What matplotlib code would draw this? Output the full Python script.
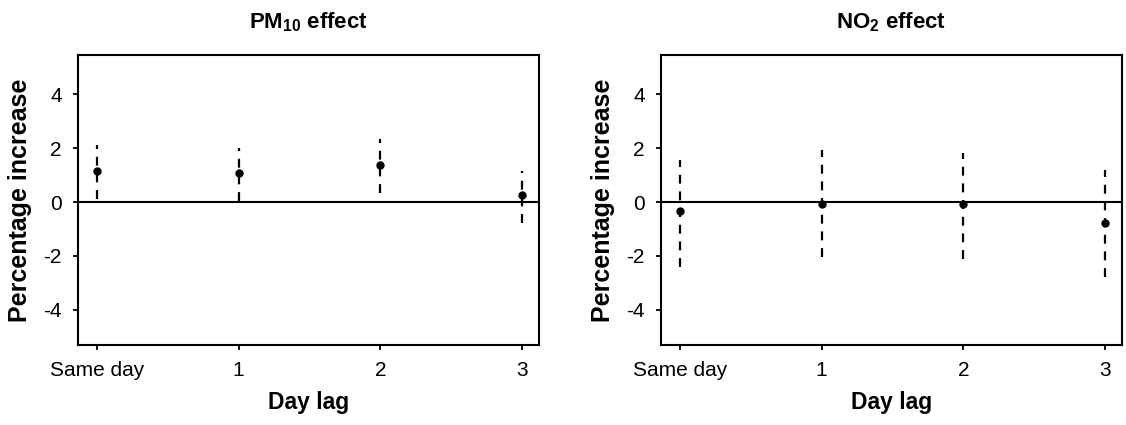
import matplotlib
matplotlib.use('Agg')
import matplotlib.pyplot as plt
import numpy as np

plt.rcParams['font.family'] = ['Liberation Sans', 'DejaVu Sans']
plt.rcParams['axes.unicode_minus'] = False
plt.rcParams['mathtext.fontset'] = 'custom'
plt.rcParams['mathtext.rm'] = 'Liberation Sans'
plt.rcParams['mathtext.bf'] = 'Liberation Sans:bold'

# Data
lags = ['Same day', '1', '2', '3']
pm10_est = [1.15, 1.07, 1.37, 0.26]
pm10_low = [0.12, 0.03, 0.33, -0.78]
pm10_high = [2.10, 2.01, 2.33, 1.14]
no2_est = [-0.33, -0.06, -0.06, -0.77]
no2_low = [-2.40, -2.04, -2.10, -2.78]
no2_high = [1.54, 1.91, 1.81, 1.17]
titles = [r'PM$_{\mathbf{10}}$ effect', r'NO$_{\mathbf{2}}$ effect']

fig = plt.figure(figsize=(11.26, 4.25), dpi=100)
ax1 = fig.add_axes([0.0693, 0.1882, 0.4094, 0.6824])
ax2 = fig.add_axes([0.587, 0.1882, 0.4094, 0.6824])

panels = [(ax1, pm10_est, pm10_low, pm10_high), (ax2, no2_est, no2_low, no2_high)]
x = np.arange(len(lags))
for i, (ax, est, low, high) in enumerate(panels):
    ax.axhline(0, color='black', lw=1.5, zorder=1)
    ax.vlines(x, low, high, colors='black', linestyles=(0, (4, 3.5)), lw=1.6, zorder=2)
    ax.plot(x, est, 'o', color='black', ms=5, zorder=3)
    ax.set_xlim(-0.134, 3.12)
    ax.set_ylim(-5.3, 5.45)
    ax.set_yticks([-4, -2, 0, 2, 4])
    ax.set_xticks(x)
    ax.set_xticklabels(lags)
    ax.tick_params(labelsize=15, length=3.6, width=1.3)
    ax.tick_params(axis='y', pad=8)
    ax.tick_params(axis='x', pad=8)
    for s in ax.spines.values():
        s.set_linewidth(1.5)
    ax.set_xlabel('Day lag', fontsize=16.5, fontweight='bold', labelpad=8)
    ax.set_ylabel('Percentage increase', fontsize=18, fontweight='bold', labelpad=8)
    ax.set_title(titles[i], fontsize=16, fontweight='bold', pad=19)

fig.savefig('out.png', dpi=100)
